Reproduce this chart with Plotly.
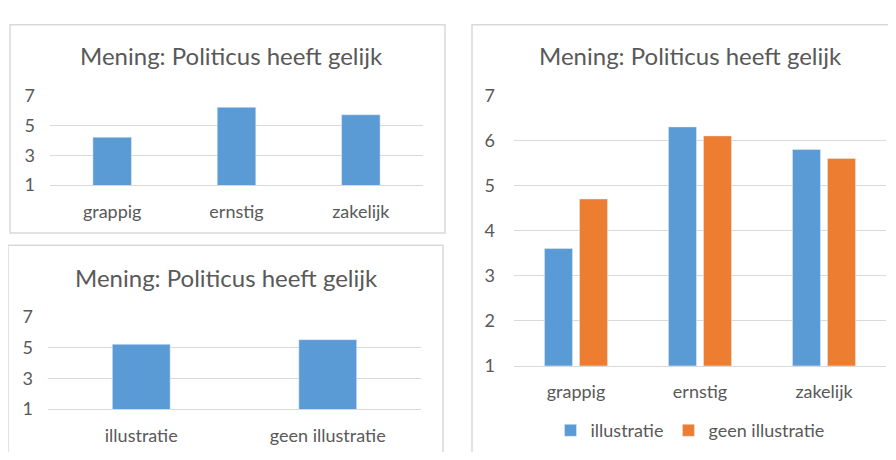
import plotly.graph_objects as go

# ---- data ----
categories = ["grappig", "ernstig", "zakelijk"]
overall_by_style = [4.2, 6.2, 5.7]
conditions = ["illustratie", "geen illustratie"]
overall_by_condition = [5.2, 5.5]
series_illustratie = [3.6, 6.3, 5.8]
series_geen = [4.7, 6.1, 5.6]
title_text = "Mening: Politicus heeft gelijk"

BLUE = "#5B9BD5"
ORANGE = "#ED7D31"
TEXT = "#595959"
GRID = "#D9D9D9"
FONT = "Lato"

# page body has an 8px default margin; figure fills the rest of the 896x460 window
OFF = 8
W, H = 896 - 2 * OFF, 460 - 2 * OFF


def px(x):
    return (x - OFF) / W


def py(y):
    return 1 - (y - OFF) / H


fig = go.Figure()

fig.add_trace(go.Bar(x=categories, y=overall_by_style, marker_color=BLUE,
                     width=0.31, xaxis="x", yaxis="y", showlegend=False))
fig.add_trace(go.Bar(x=conditions, y=overall_by_condition, marker_color=BLUE,
                     width=0.31, xaxis="x2", yaxis="y2", showlegend=False))
fig.add_trace(go.Bar(x=categories, y=series_illustratie, name="illustratie",
                     marker_color=BLUE, xaxis="x3", yaxis="y3"))
fig.add_trace(go.Bar(x=categories, y=series_geen, name="geen illustratie",
                     marker_color=ORANGE, xaxis="x3", yaxis="y3"))

TICKFONT = dict(size=18, color=TEXT, family=FONT)
xcommon = dict(showgrid=False, showline=True, linecolor=GRID, linewidth=1,
               zeroline=False, ticks="", tickfont=TICKFONT,
               ticklabelstandoff=10, fixedrange=True)
ycommon = dict(showgrid=True, gridcolor=GRID, gridwidth=1, zeroline=False,
               showline=False, ticks="", range=[1, 7],
               tickfont=TICKFONT, fixedrange=True)

fig.update_layout(
    width=W, height=H,
    margin=dict(l=0, r=0, t=0, b=0),
    paper_bgcolor="white", plot_bgcolor="white",
    barmode="group", bargap=0.435, bargroupgap=0.2,
    font=dict(family=FONT, color=TEXT),
    xaxis=dict(domain=[px(50), px(423)], anchor="y", **xcommon),
    yaxis=dict(domain=[py(181.7), py(87.3)], anchor="x", tickvals=[1, 3, 5, 7],
               ticklabelstandoff=14, **ycommon),
    xaxis2=dict(domain=[px(48), px(421)], anchor="y2", **xcommon),
    yaxis2=dict(domain=[py(417.3), py(320)], anchor="x2", tickvals=[1, 3, 5, 7],
                ticklabelstandoff=14, **ycommon),
    xaxis3=dict(domain=[px(514), px(886)], anchor="y3", **xcommon),
    yaxis3=dict(domain=[py(371.7), py(87.3)], anchor="x3", tickvals=[1, 2, 3, 4, 5, 6, 7],
                ticklabelstandoff=18, **ycommon),
    legend=dict(orientation="h", x=px(690), y=py(440), xanchor="center", yanchor="middle",
                font=TICKFONT, itemwidth=30,
                traceorder="normal", bgcolor="rgba(0,0,0,0)"),
    showlegend=True,
)

# panel borders
for (x0, y0, x1, y1) in [(10, 13, 445, 232), (8, 245, 443, 475), (472, 13, 910, 475)]:
    fig.add_shape(type="rect", xref="paper", yref="paper",
                  x0=px(x0), x1=px(x1), y0=py(y1), y1=py(y0),
                  line=dict(color=GRID, width=1.5), fillcolor="rgba(0,0,0,0)", layer="below")

# titles
for (cx, cy) in [(231, 45), (226.7, 279.3), (690.8, 45)]:
    fig.add_annotation(text=title_text, xref="paper", yref="paper",
                       x=px(cx), y=py(cy), xanchor="center", yanchor="middle",
                       showarrow=False, font=dict(size=24, color=TEXT, family=FONT))

fig.write_html("out.html")
